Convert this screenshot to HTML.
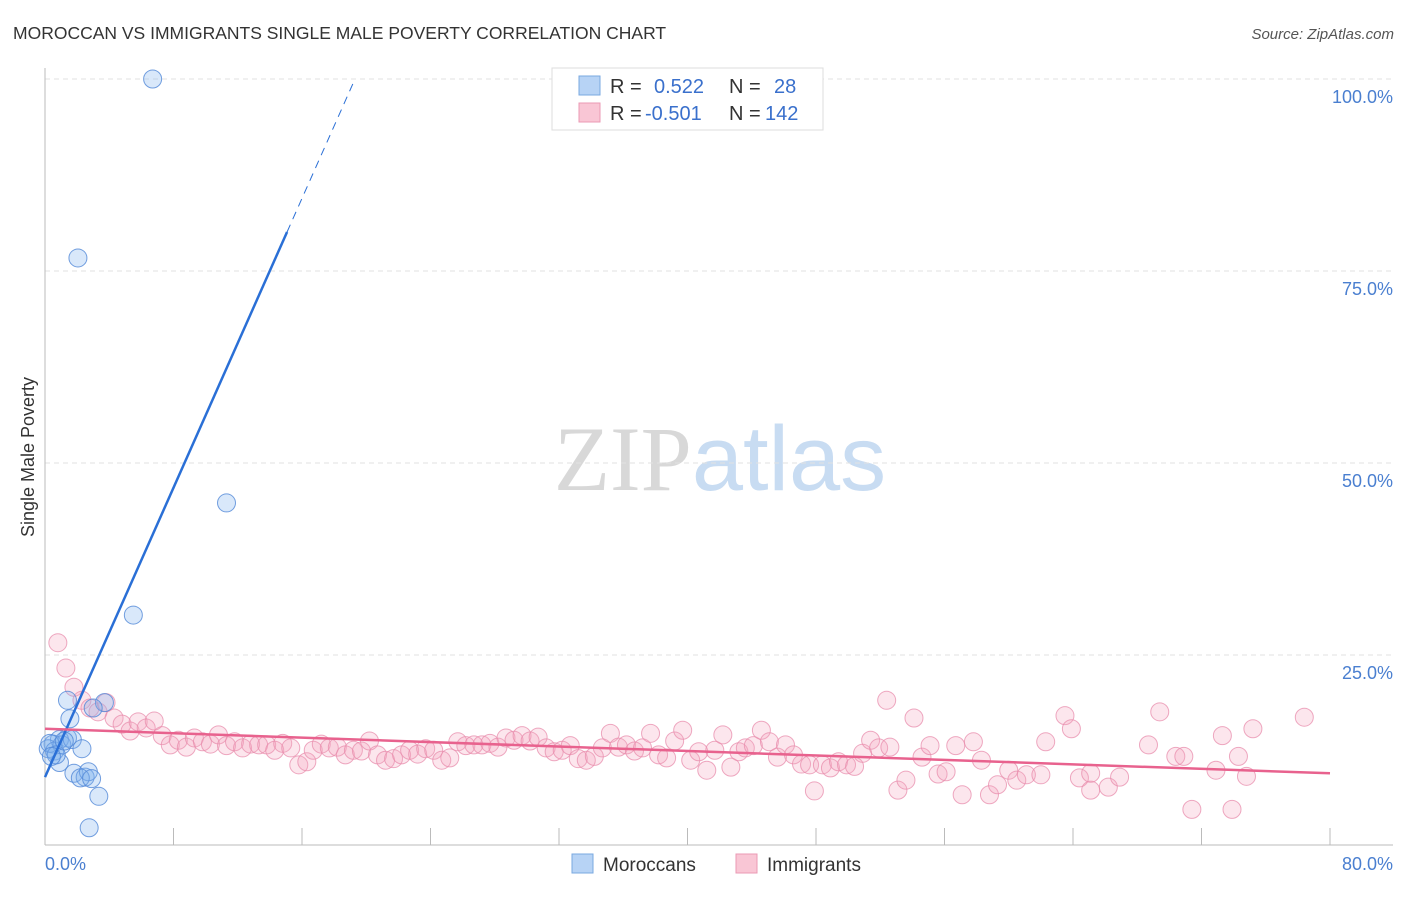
<!DOCTYPE html>
<html><head><meta charset="utf-8"><style>
body{margin:0;background:#fff;font-family:"Liberation Sans",sans-serif;}
svg text{font-family:"Liberation Sans",sans-serif;}
</style></head><body>
<svg id="chart" width="1406" height="892" xmlns="http://www.w3.org/2000/svg">
<text x="13" y="39" font-size="17.5" fill="#333">MOROCCAN VS IMMIGRANTS SINGLE MALE POVERTY CORRELATION CHART</text>
<text x="1394" y="39" font-size="15" fill="#555" text-anchor="end" font-style="italic">Source: ZipAtlas.com</text>
<text x="720" y="490" font-size="92" text-anchor="middle"><tspan fill="#d8d8d8" font-family="Liberation Serif">ZIP</tspan><tspan fill="#c8dcf2">atlas</tspan></text>
<g id="grid"></g>
<g id="axes"></g>
<g id="pink"></g>
<g id="blue"></g>
<g id="lines"></g>
<text transform="translate(34,457) rotate(-90)" font-size="18" fill="#333" text-anchor="middle">Single Male Poverty</text>
<g>
<rect x="552" y="68" width="271" height="62" fill="#fff" stroke="#ddd"/>
<rect x="579" y="76" width="21" height="19" fill="#b7d3f5" stroke="#7aa8e0"/>
<rect x="579" y="103" width="21" height="19" fill="#f9c6d5" stroke="#eb9ab4"/>
<text x="610" y="93" font-size="20" fill="#333">R = <tspan fill="#3a70cc" x="654">0.522</tspan><tspan fill="#333" x="729">N =</tspan><tspan fill="#3a70cc" x="774">28</tspan></text>
<text x="610" y="120" font-size="20" fill="#333">R = <tspan fill="#3a70cc" x="645">-0.501</tspan><tspan fill="#333" x="729">N =</tspan><tspan fill="#3a70cc" x="765">142</tspan></text>
</g>
<g>
<rect x="572" y="854" width="21" height="19" fill="#b7d3f5" stroke="#7aa8e0"/>
<text x="603" y="871" font-size="19" fill="#333">Moroccans</text>
<rect x="736" y="854" width="21" height="19" fill="#f9c6d5" stroke="#eb9ab4"/>
<text x="767" y="871" font-size="19" fill="#333">Immigrants</text>
</g>
</svg>
<script>
const yTicks=[25,50,75,100];
const yTickLabels=["25.0%","50.0%","75.0%","100.0%"];
const xTicks=[0,8,16,24,32,40,48,56,64,72,80];
const xEndLabels=["0.0%","80.0%"];
const blueX=[6.7,2.05,11.3,5.5,1.4,3.7,3.0,1.55,1.4,0.9,0.5,0.2,0.6,1.05,1.7,2.3,0.9,1.8,2.5,2.7,2.2,3.35,2.75,0.3,0.7,1.2,0.4,2.9];
const blueY=[100,76.7,44.8,30.2,19.1,18.8,18.1,16.7,14.2,14.0,13.4,12.8,12.5,13.3,14.0,12.8,11.0,9.6,9.1,9.8,9.0,6.6,2.5,13.5,12.0,13.8,11.8,8.9];
const pinkX=[0.8,1.3,1.8,2.3,2.8,3.3,3.8,4.3,4.8,5.3,5.8,6.3,6.8,7.3,7.8,8.3,8.8,9.3,9.8,10.3,10.8,11.3,11.8,12.3,12.8,13.3,13.8,14.3,14.8,15.3,15.8,16.3,16.7,17.2,17.7,18.2,18.7,19.2,19.7,20.2,20.7,21.2,21.7,22.2,22.7,23.2,23.7,24.2,24.7,25.2,25.7,26.2,26.7,27.2,27.7,28.2,28.7,29.2,29.7,30.2,30.7,31.2,31.7,32.2,32.7,33.2,33.7,34.2,34.7,35.2,35.7,36.2,36.7,37.2,37.7,38.2,38.7,39.2,39.7,40.2,40.7,41.2,41.7,42.2,42.7,43.2,43.6,44.1,44.6,45.1,45.6,46.1,46.6,47.1,47.6,47.9,48.4,48.9,49.4,49.9,50.4,50.9,51.4,51.9,52.4,52.6,53.1,53.6,54.1,54.6,55.1,55.6,56.1,56.7,57.1,57.8,58.3,58.8,59.3,60.0,60.5,61.1,62.0,62.3,63.5,63.9,64.4,65.1,65.1,66.2,66.9,68.7,69.4,70.4,70.9,71.4,72.9,73.3,73.9,74.3,74.8,75.2,78.4];
const pinkY=[26.6,23.3,20.8,19.1,18.1,17.6,18.8,16.8,16.0,15.1,16.3,15.5,16.4,14.5,13.3,13.9,13.0,14.2,13.7,13.4,14.6,13.2,13.7,12.9,13.4,13.3,13.3,12.6,13.5,12.9,10.7,11.1,12.6,13.4,12.9,13.0,12.0,12.6,12.5,13.8,12.0,11.3,11.5,12.0,12.6,12.1,12.8,12.6,11.3,11.6,13.7,13.2,13.3,13.3,13.5,13.0,14.2,13.9,14.5,13.8,14.3,12.9,12.4,12.6,13.2,11.5,11.3,11.8,12.9,14.8,13.0,13.3,12.5,12.9,14.8,12.0,11.6,13.8,15.2,11.3,12.4,10.0,12.6,14.6,10.4,12.4,12.9,13.2,15.2,13.7,11.7,13.3,12.0,10.8,10.7,7.3,10.7,10.3,11.1,10.7,10.5,12.2,13.9,12.9,19.1,13.0,7.4,8.7,16.8,11.7,13.2,9.5,9.8,13.2,6.8,13.7,11.3,6.8,8.1,10.0,8.7,9.4,9.4,13.7,17.1,15.4,9.0,7.4,9.6,7.8,9.1,13.3,17.6,11.8,11.8,4.9,10.0,14.5,4.9,11.8,9.2,15.4,16.9];
const blueTrend=[9.1,4.71]; // intercept, slope
const pinkTrend=[15.4,-0.0725];

const NS="http://www.w3.org/2000/svg";
const X0=45,X1=1330,Y0=847,Y100=79;
const sx=v=>X0+v/80*(X1-X0);
const sy=v=>Y0-v/100*(Y0-Y100);
function mk(tag,attrs,parent){const e=document.createElementNS(NS,tag);for(const k in attrs)e.setAttribute(k,attrs[k]);document.getElementById(parent).appendChild(e);return e;}
yTicks.forEach((t,i)=>{
  const l=mk('line',{x1:X0,x2:1393,y1:sy(t),y2:sy(t),stroke:'#e2e2e2','stroke-dasharray':'5,4'},'grid');
  
  
  const tx=mk('text',{x:1393,y:sy(t)+24,'font-size':18,fill:'#4a7fd0','text-anchor':'end'},'axes');
  tx.textContent=yTickLabels[i];
  
  
});
mk('line',{x1:X0,x2:X0,y1:68,y2:845,stroke:'#bbb'},'axes');
mk('line',{x1:X0,x2:1393,y1:845,y2:845,stroke:'#bbb'},'axes');
xTicks.forEach(t=>{
  const l=mk('line',{x1:sx(t),x2:sx(t),y1:828,y2:845,stroke:'#bbb'},'axes');
  
  
});
const xl0=mk('text',{x:45,y:870,'font-size':18,fill:'#4a7fd0'},'axes');xl0.textContent=xEndLabels[0];


const xl1=mk('text',{x:1393,y:870,'font-size':18,fill:'#4a7fd0','text-anchor':'end'},'axes');xl1.textContent=xEndLabels[1];


pinkX.forEach((x,i)=>{
  const c=mk('circle',{cx:sx(x),cy:sy(pinkY[i]),r:9,fill:'rgba(244,165,190,0.28)',stroke:'rgba(232,140,172,0.75)','stroke-width':1},'pink');
  
  
});
blueX.forEach((x,i)=>{
  const c=mk('circle',{cx:sx(x),cy:sy(blueY[i]),r:9,fill:'rgba(130,178,238,0.3)',stroke:'rgba(80,135,215,0.8)','stroke-width':1},'blue');
  
  
});
const bx1=15.07,bx2=(100-blueTrend[0])/blueTrend[1];
const bl=mk('line',{x1:sx(0),y1:sy(blueTrend[0]),x2:sx(bx1),y2:sy(blueTrend[0]+blueTrend[1]*bx1),stroke:'#2a6fd6','stroke-width':2.5},'lines');


const bd=mk('line',{x1:sx(bx1),y1:sy(blueTrend[0]+blueTrend[1]*bx1),x2:sx(bx2),y2:sy(100),stroke:'#2a6fd6','stroke-width':1,'stroke-dasharray':'8,6'},'lines');


const pl=mk('line',{x1:sx(0),y1:sy(pinkTrend[0]),x2:sx(80),y2:sy(pinkTrend[0]+pinkTrend[1]*80),stroke:'#e8628e','stroke-width':2.5},'lines');


</script>
</body></html>
